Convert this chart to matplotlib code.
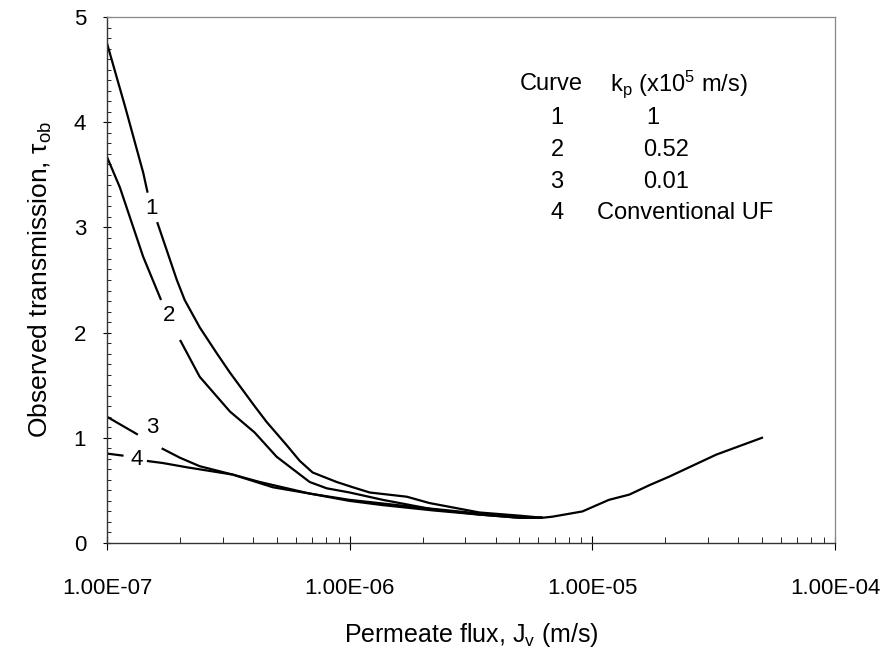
import numpy as np
import matplotlib
matplotlib.use("Agg")
import matplotlib.pyplot as plt
from matplotlib.ticker import FixedLocator, MultipleLocator, NullFormatter, LogLocator

plt.rcParams["font.family"] = ["Liberation Sans", "DejaVu Sans"]
plt.rcParams["mathtext.fontset"] = "custom"
plt.rcParams["mathtext.rm"] = "Liberation Sans"
plt.rcParams["mathtext.it"] = "Liberation Sans:italic"

# Permeate flux (m/s) and observed transmission for each curve.
# Each curve is split in two where its number label sits.
flux_1 = [1.00e-7, 1.19e-7, 1.41e-7, 1.47e-7,
          1.61e-7, 1.94e-7, 2.09e-7, 2.41e-7, 2.84e-7, 3.21e-7, 4.06e-7, 4.55e-7,
          5.50e-7, 6.23e-7, 7.04e-7, 8.84e-7, 1.03e-6, 1.21e-6, 1.72e-6, 2.13e-6,
          3.43e-6, 5.00e-6, 6.23e-6]
tau_1 = [4.75, 4.14, 3.52, 3.33,
         3.05, 2.50, 2.31, 2.05, 1.80, 1.62, 1.30, 1.15,
         0.93, 0.78, 0.67, 0.58, 0.53, 0.48, 0.44, 0.38,
         0.29, 0.26, 0.24]

flux_2 = [1.00e-7, 1.13e-7, 1.41e-7, 1.67e-7,
          2.00e-7, 2.41e-7, 3.21e-7, 4.06e-7, 5.00e-7, 6.84e-7, 8.04e-7, 1.00e-6,
          1.37e-6, 2.20e-6, 3.43e-6, 5.00e-6, 6.23e-6]
tau_2 = [3.67, 3.38, 2.72, 2.31,
         1.93, 1.58, 1.25, 1.05, 0.82, 0.58, 0.52, 0.48,
         0.41, 0.32, 0.27, 0.24, 0.24]

flux_3 = [1.00e-7, 1.34e-7,
          1.68e-7, 2.00e-7, 2.41e-7, 3.30e-7, 4.26e-7, 6.84e-7, 1.00e-6, 1.89e-6,
          3.43e-6, 5.00e-6, 6.23e-6]
tau_3 = [1.20, 1.03,
         0.90, 0.81, 0.73, 0.65, 0.58, 0.47, 0.41, 0.34,
         0.28, 0.25, 0.24]

flux_4 = [1.00e-7, 1.17e-7,
          1.46e-7, 1.70e-7, 2.13e-7, 3.30e-7, 4.82e-7, 6.84e-7, 1.00e-6, 1.37e-6,
          2.20e-6, 3.43e-6, 5.00e-6, 6.23e-6]
tau_4 = [0.85, 0.83,
         0.78, 0.76, 0.72, 0.65, 0.53, 0.47, 0.40, 0.36,
         0.31, 0.27, 0.24, 0.24]

# Common branch beyond the minimum
flux_tail = [6.23e-6, 6.84e-6, 9.10e-6, 1.17e-5, 1.42e-5, 1.72e-5, 2.07e-5, 3.24e-5, 5.00e-5]
tau_tail = [0.24, 0.25, 0.30, 0.41, 0.46, 0.55, 0.63, 0.84, 1.00]

curve_ids = ["1", "2", "3", "4"]
kp_values = ["1", "0.52", "0.01", "Conventional UF"]
x_tick_labels = ["1.00E-07", "1.00E-06", "1.00E-05", "1.00E-04"]
x_ticks = [1e-7, 1e-6, 1e-5, 1e-4]

curves = [(flux_1, tau_1), (flux_2, tau_2), (flux_3, tau_3), (flux_4, tau_4)]
split_at = [4, 4, 2, 2]                      # first point after the label gap
label_xy = [(1.52e-7, 3.18), (1.80e-7, 2.16), (1.53e-7, 1.10), (1.32e-7, 0.79)]

fig = plt.figure(figsize=(8.85, 6.51), dpi=100)
ax = fig.add_axes([107 / 885, 108 / 651, 728 / 885, 526 / 651])

lw = 1.6
for (fx, ty), k in zip(curves, split_at):
    ax.plot(fx[:k], ty[:k], color="black", lw=lw, solid_capstyle="butt")
    ax.plot(fx[k:], ty[k:], color="black", lw=lw, solid_capstyle="butt")
ax.plot(flux_tail, tau_tail, color="black", lw=lw)

for cid, (lx, ly) in zip(curve_ids, label_xy):
    ax.text(lx, ly, cid, fontsize=16, ha="center", va="center")

ax.set_xscale("log")
ax.set_xlim(1e-7, 1e-4)
ax.set_ylim(0, 5)
ax.xaxis.set_major_locator(FixedLocator(x_ticks))
ax.set_xticklabels(x_tick_labels)
ax.xaxis.set_minor_locator(LogLocator(base=10, subs=np.arange(2, 10)))
ax.xaxis.set_minor_formatter(NullFormatter())
ax.yaxis.set_major_locator(MultipleLocator(1))
ax.yaxis.set_minor_locator(MultipleLocator(0.1))

ax.tick_params(axis="x", which="major", direction="inout", length=10, width=0.8,
               labelsize=16, pad=20)
ax.tick_params(axis="x", which="minor", direction="in", length=4, width=0.6)
ax.tick_params(axis="y", which="major", direction="inout", length=6, width=0.8,
               labelsize=16, pad=12)
ax.tick_params(axis="y", which="minor", direction="in", length=3, width=0.6)

for side in ("left", "bottom"):
    ax.spines[side].set_color("#333333")
    ax.spines[side].set_linewidth(1.0)
for side in ("top", "right"):
    ax.spines[side].set_color("#888888")
    ax.spines[side].set_linewidth(0.9)
    ax.spines[side].set_linestyle((0, (1, 1)))

ax.set_xlabel("Permeate flux, J$_\\mathrm{v}$ (m/s)", fontsize=18, labelpad=16)
ax.set_ylabel("Observed transmission, τ$_\\mathrm{ob}$", fontsize=19, labelpad=14)

# Key table in the upper right
tr = ax.transAxes
def px(xp, yp):
    return ((xp - 107) / 728, (543 - yp) / 526)

ax.text(*px(520, 84), "Curve", transform=tr, fontsize=17, ha="left", va="center")
ax.text(*px(610, 84), "k$_\\mathrm{p}$ (x10$^\\mathrm{5}$ m/s)", transform=tr,
        fontsize=17, ha="left", va="center")
rows_y = [118, 150, 182, 213]
kp_x = [646, 643, 643, 597]
for cid, kp, yy, xx in zip(curve_ids, kp_values, rows_y, kp_x):
    ax.text(*px(557, yy), cid, transform=tr, fontsize=17, ha="center", va="center")
    ax.text(*px(xx, yy), kp, transform=tr, fontsize=17, ha="left", va="center")

fig.savefig("out.png", dpi=100)
